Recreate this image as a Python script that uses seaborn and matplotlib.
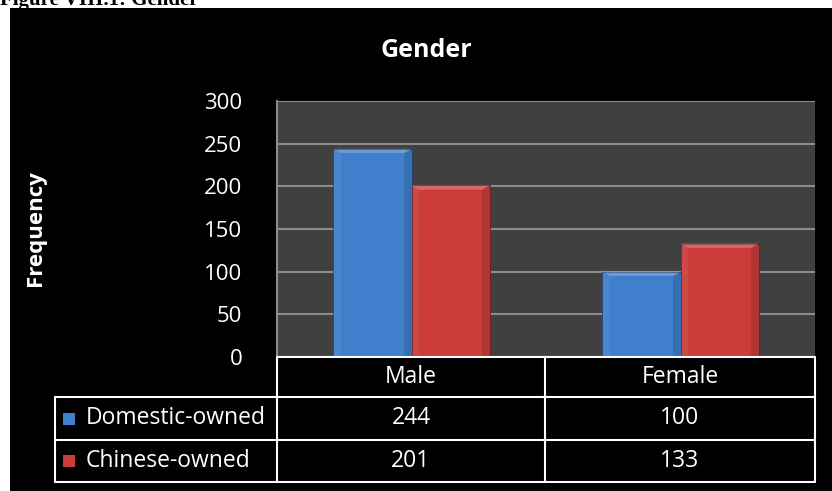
import numpy as np
import pandas as pd
import seaborn as sns
from matplotlib import pyplot as plt
from matplotlib.patches import Rectangle, Polygon
from matplotlib.lines import Line2D

# data
genders = ["Male", "Female"]
owners = ["Domestic-owned", "Chinese-owned"]
domestic = [244, 100]
chinese = [201, 133]
yticks = [0, 50, 100, 150, 200, 250, 300]
colors = ["#3f7fcc", "#cc3d3a"]

W, H = 832, 491


def fx(px):
    return px / W


def fy(py):
    return 1 - py / H


def main():
    df = pd.DataFrame({
        "Gender": genders * 2,
        "Owner": [owners[0]] * 2 + [owners[1]] * 2,
        "Frequency": domestic + chinese,
    })

    sns.set_style("dark")
    plt.rcParams["font.family"] = ["Open Sans", "DejaVu Sans"]

    fig = plt.figure(figsize=(W / 100, H / 100), dpi=100, facecolor="white")
    # black chart area with white strip on top/left
    fig.add_artist(Rectangle((fx(10), 0), 1 - fx(10), fy(8), transform=fig.transFigure,
                             facecolor="black", edgecolor="none", zorder=0))
    fig.text(0.0, fy(5), "Figure VIII.1: Gender", family="Liberation Serif", weight="bold",
             fontsize=15, color="black", va="baseline", ha="left")

    left, right, top, bottom = 277, 815, 101, 357
    ax = fig.add_axes([fx(left), fy(bottom), fx(right - left), fy(top) - fy(bottom)])
    ax.set_facecolor("#404040")

    sns.barplot(data=df, x="Gender", y="Frequency", hue="Owner", palette=colors,
                saturation=1, width=0.58, ax=ax, legend=False, edgecolor="#1e3a66",
                linewidth=0.6, zorder=3)
    for p in ax.patches[2:]:
        p.set_edgecolor("#6a1f1d")
    # bevel: light top facet and darker sides
    for p in ax.patches:
        x0, w, h = p.get_x(), p.get_width(), p.get_height()
        bx = w * 0.09
        by = 5
        ax.add_patch(Polygon([(x0, h), (x0 + w, h), (x0 + w - bx, h - by), (x0 + bx, h - by)],
                             closed=True, facecolor="white", alpha=0.22, edgecolor="none",
                             zorder=4))
        ax.add_patch(Polygon([(x0 + w, h), (x0 + w, 0), (x0 + w - bx, 0), (x0 + w - bx, h - by)],
                             closed=True, facecolor="black", alpha=0.12, edgecolor="none",
                             zorder=4))
        ax.add_patch(Polygon([(x0, h), (x0, 0), (x0 + bx, 0), (x0 + bx, h - by)],
                             closed=True, facecolor="white", alpha=0.06, edgecolor="none",
                             zorder=4))

    ax.set_xlim(-0.5, 1.5)
    ax.set_ylim(0, 300)
    ax.set_yticks(yticks)
    ax.set_yticklabels([str(t) for t in yticks], color="white", fontsize=16)
    ax.tick_params(axis="y", length=0, pad=25)
    ax.set_xticks([])
    ax.set_xlabel("")
    ax.set_ylabel("")
    ax.grid(axis="y", color="#8c8c8c", linewidth=1.5, zorder=0)
    ax.grid(axis="x", visible=False)
    for s in ["top", "right", "bottom"]:
        ax.spines[s].set_visible(False)
    ax.spines["left"].set_color("#8c8c8c")
    ax.spines["left"].set_linewidth(1.5)

    fig.text(fx(426), fy(50), "Gender", color="white", weight="bold", fontsize=18,
             ha="center", va="center")
    fig.text(fx(36), fy(228), "Frequency", color="white", weight="bold", fontsize=16,
             ha="center", va="center", rotation=90)

    # data table under the plot
    def hline(x0, x1, y):
        fig.add_artist(Line2D([fx(x0), fx(x1)], [fy(y), fy(y)], color="white", lw=1.5,
                              transform=fig.transFigure))

    def vline(x, y0, y1):
        fig.add_artist(Line2D([fx(x), fx(x)], [fy(y0), fy(y1)], color="white", lw=1.5,
                              transform=fig.transFigure))

    cols = [55, 277, 545, 815]
    rows = [357, 397, 440, 482]
    hline(277, 815, 357)
    for y in rows[1:]:
        hline(55, 815, y)
    vline(55, 397, 482)
    for x in cols[1:]:
        vline(x, 357, 482)

    for j, g in enumerate(genders):
        cx = (cols[j + 1] + cols[j + 2]) / 2
        fig.text(fx(cx), fy((rows[0] + rows[1]) / 2), g, color="white", fontsize=16.5,
                 ha="center", va="center")
    for i, vals in enumerate([domestic, chinese]):
        cy = (rows[i + 1] + rows[i + 2]) / 2
        fig.add_artist(Rectangle((fx(63), fy(cy + 6)), fx(12), fy(cy - 6) - fy(cy + 6),
                                 transform=fig.transFigure, facecolor=colors[i],
                                 edgecolor="none"))
        fig.text(fx(86), fy(cy), owners[i], color="white", fontsize=16.5, ha="left",
                 va="center")
        for j, v in enumerate(vals):
            cx = (cols[j + 1] + cols[j + 2]) / 2
            fig.text(fx(cx), fy(cy), str(v), color="white", fontsize=16.5,
                     ha="center", va="center")

    plt.savefig("out.png", dpi=100, facecolor="white")


if __name__ == "__main__":
    main()
